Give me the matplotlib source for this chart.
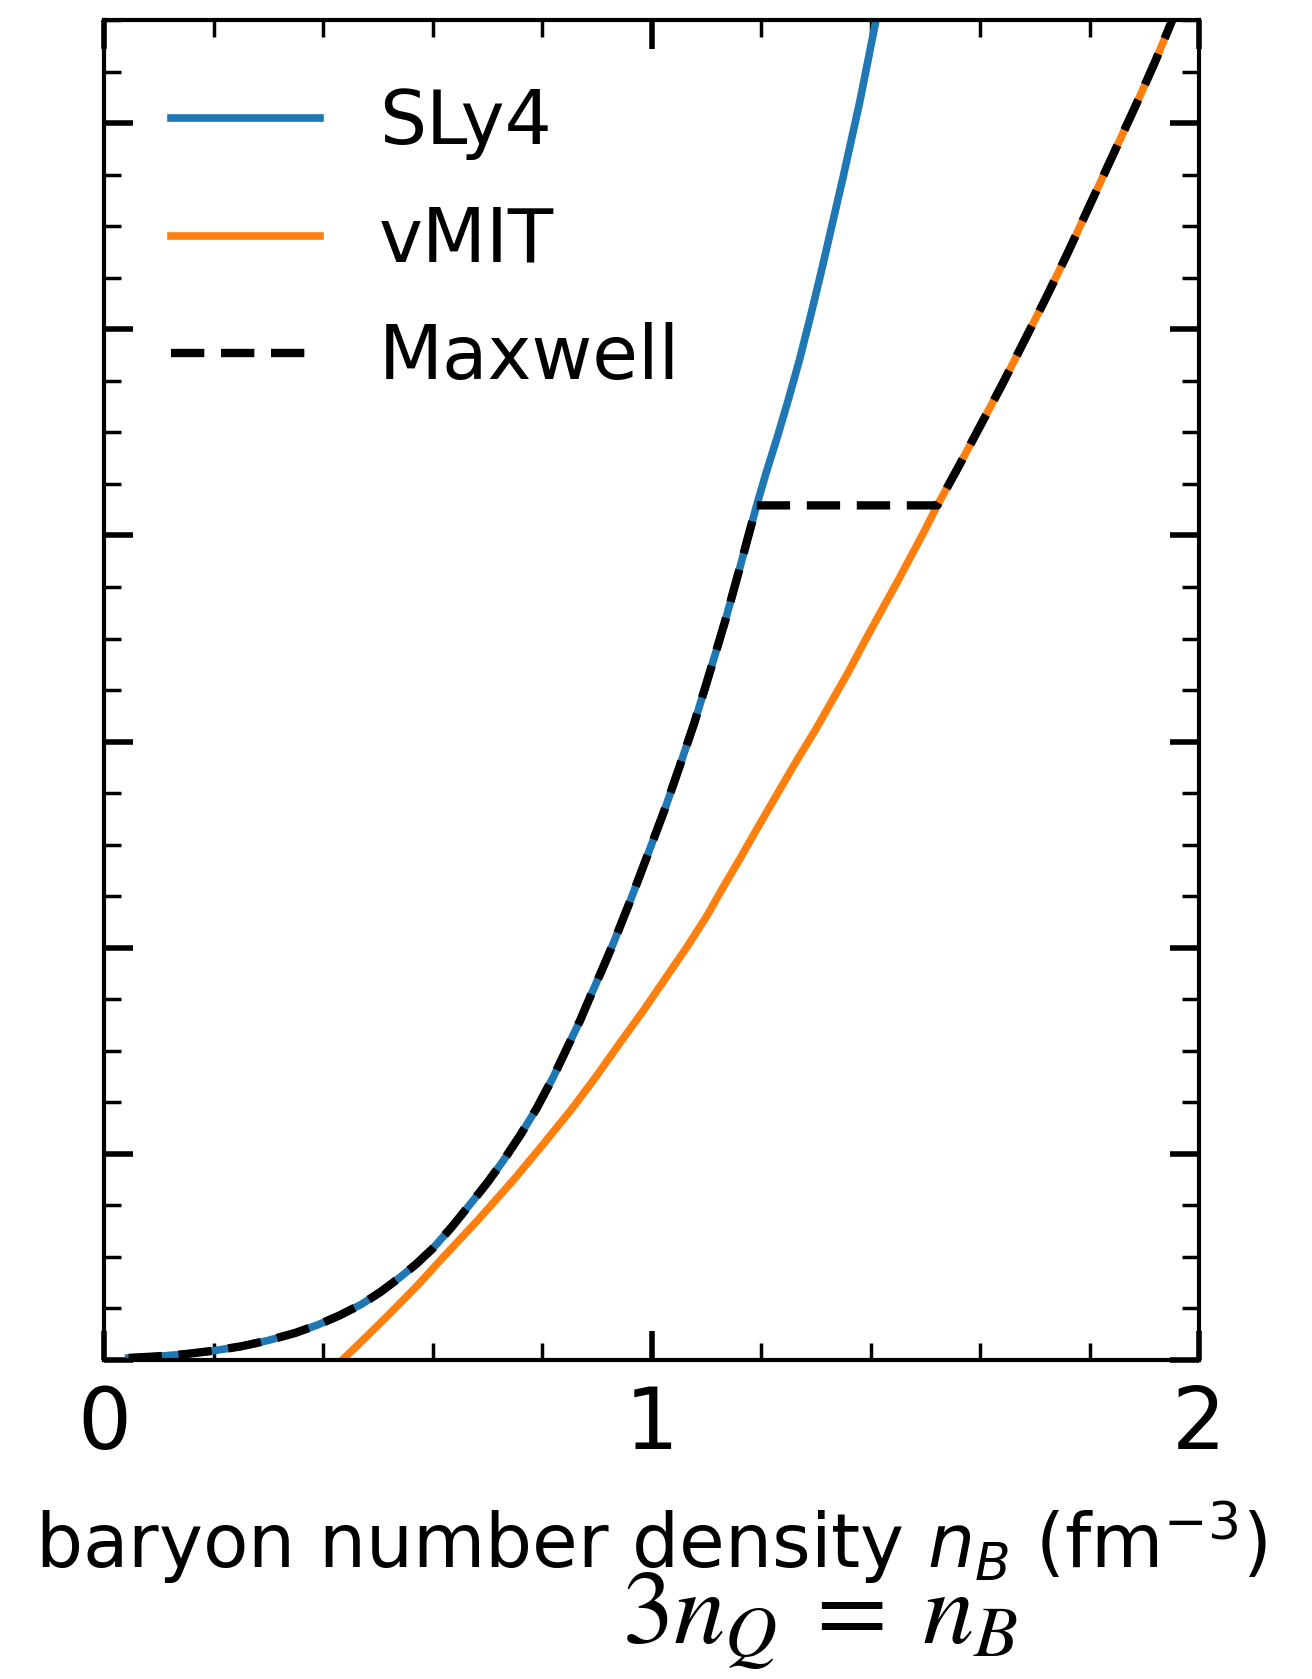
import sys
import matplotlib
matplotlib.use("Agg")
from matplotlib import pyplot as plt
from matplotlib.ticker import MultipleLocator

# pressure vs baryon density, read in MeV fm^-3 (axis left unlabelled)
sly4_n = [0.045, 0.1, 0.15, 0.2, 0.25, 0.3, 0.35, 0.39, 0.43, 0.47, 0.505,
          0.54, 0.57, 0.6, 0.635, 0.67, 0.7, 0.73, 0.76, 0.79, 0.82, 0.845,
          0.87, 0.89, 0.91, 0.93, 0.96, 0.99, 1.024, 1.05, 1.078, 1.1, 1.117,
          1.135, 1.149, 1.162, 1.174, 1.192, 1.21, 1.23, 1.25, 1.27, 1.29,
          1.31, 1.33, 1.35, 1.365, 1.38, 1.395, 1.41]
sly4_p = [1.0, 1.8, 2.9, 4.5, 6.6, 9.5, 13.2, 17, 21.6, 27, 33,
          40, 46.5, 54, 64.5, 76, 86, 97, 109, 122, 137, 151,
          165, 177.5, 189.5, 202, 222, 243, 267, 287, 309, 328, 343,
          359, 372.5, 385, 397, 414.6, 431, 448, 466, 485, 506,
          528, 551, 574, 592, 610, 630, 650]

vmit_n = [0.435, 0.48, 0.52, 0.57, 0.62, 0.685, 0.75, 0.8, 0.855, 0.9, 0.94,
          0.985, 1.025, 1.065, 1.1, 1.13, 1.16, 1.19, 1.225, 1.26, 1.3, 1.33,
          1.36, 1.39, 1.425, 1.45, 1.475, 1.5, 1.522, 1.56, 1.6, 1.64, 1.68,
          1.72, 1.76, 1.8, 1.84, 1.885, 1.92, 1.951]
vmit_p = [0, 11.5, 22, 35.5, 50, 68.5, 88, 104, 122, 138, 153,
          169.5, 185, 200.5, 215, 229, 242.5, 256.5, 272.5, 288.5, 306, 320,
          334, 349, 366, 378, 390.5, 403, 414.6, 433, 453, 473, 494,
          515, 537, 560, 583, 609, 630, 650]

# Maxwell construction: hadronic side up to n_lo, quark side from n_hi
n_lo = 1.192
n_hi = 1.522

x_ticks = [0, 1, 2]
labels = ["SLy4", "vMIT", "Maxwell"]


def main(argv=None):
    fig = plt.figure(figsize=(13.12, 16.79), dpi=100)
    ax = fig.add_axes([0.0793, 0.19, 0.8346, 0.798])

    max_n = [n for n in sly4_n if n <= n_lo] + [n for n in vmit_n if n >= n_hi]
    max_p = [p for n, p in zip(sly4_n, sly4_p) if n <= n_lo] + \
            [p for n, p in zip(vmit_n, vmit_p) if n >= n_hi]

    ax.plot(sly4_n, sly4_p, color="#1f77b4", lw=5.5, label=labels[0])
    ax.plot(vmit_n, vmit_p, color="#ff7f0e", lw=5.5, label=labels[1])
    ax.plot(max_n, max_p, color="black", ls="--", dashes=(4, 2), lw=6,
            label=labels[2])

    ax.set_xlim(0, 2)
    ax.set_ylim(0, 650)
    ax.set_xticks(x_ticks)
    ax.set_xticklabels([str(t) for t in x_ticks])
    ax.xaxis.set_minor_locator(MultipleLocator(0.2))
    ax.yaxis.set_major_locator(MultipleLocator(100))
    ax.yaxis.set_minor_locator(MultipleLocator(25))

    ax.tick_params(which="both", direction="in", top=True, right=True,
                   labelleft=False)
    ax.tick_params(which="major", length=21, width=4, labelsize=61, pad=17)
    ax.tick_params(which="minor", length=12, width=2.5)
    for s in ax.spines.values():
        s.set_linewidth(3)

    ax.set_xlabel(r"baryon number density $n_B$ (fm$^{-3}$)", fontsize=53.5,
                  labelpad=23)

    ax.legend(loc="upper left", frameon=False, fontsize=53.5, labelspacing=0.6)

    fig.text(0.625, 0.0208, r"$3n_Q\;=\;n_B$", fontsize=74, ha="center",
             va="baseline", math_fontfamily="stix")

    fig.savefig("out.png", dpi=100)


if __name__ == "__main__":
    sys.exit(main())
